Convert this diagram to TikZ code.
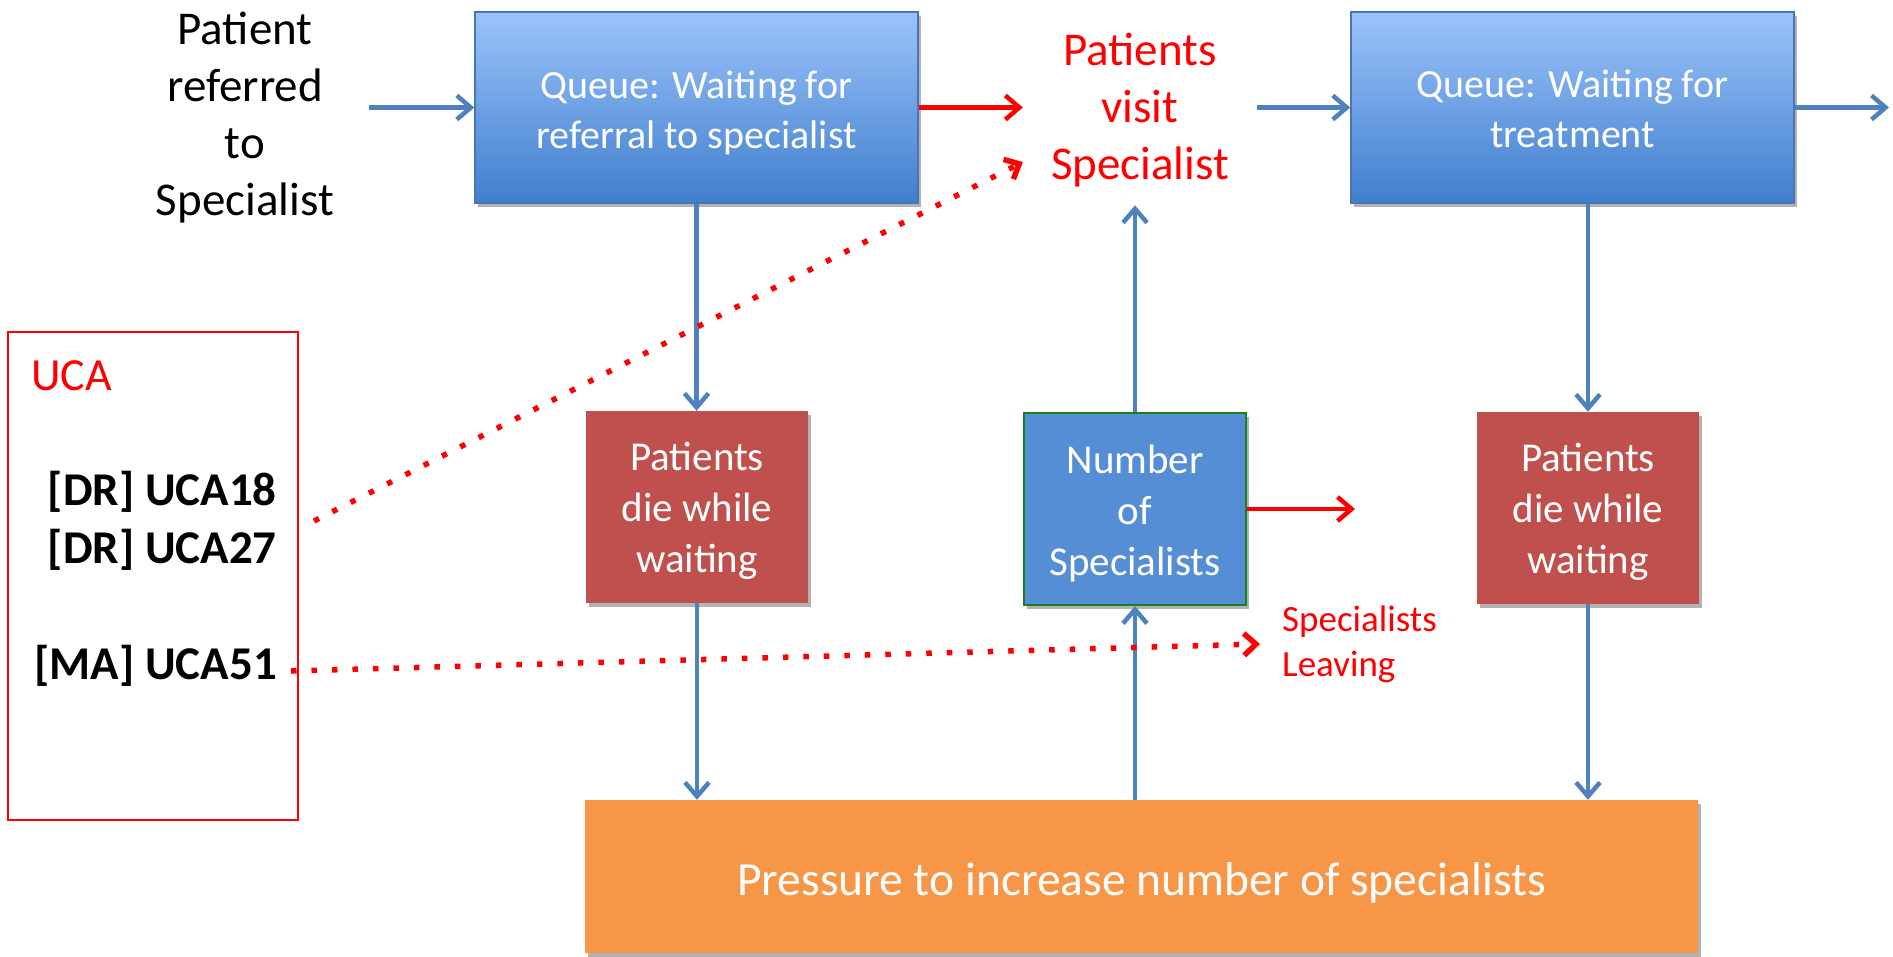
\documentclass[tikz,border=0pt]{standalone}
\usepackage{fontspec}
\setmainfont{Carlito}
\usetikzlibrary{arrows.meta,shadows}

\definecolor{flowblue}{RGB}{79,129,189}
\definecolor{queuetop}{RGB}{156,195,251}
\definecolor{queuebot}{RGB}{64,127,205}
\definecolor{queueedge}{RGB}{72,118,180}
\definecolor{deathred}{RGB}{192,80,77}
\definecolor{stockblue}{RGB}{85,142,213}
\definecolor{stockedge}{RGB}{20,130,30}
\definecolor{pressure}{RGB}{247,150,70}
\definecolor{ucared}{RGB}{255,0,0}

\newcommand{\fsz}[2]{\fontsize{#1}{#2}\selectfont}
% strut that pushes the first line of a box label down
\newcommand{\firstlinestrut}[1]{\rule{0pt}{#1}}
% strut giving a last line without descenders the depth of one with them
\newcommand{\lastlinestrut}{\rule[-0.19em]{0pt}{0.19em}}

\tikzset{
  boxshadow/.style={drop shadow={shadow xshift=3pt,shadow yshift=-4pt,opacity=0.3,fill=black}},
  queuebox/.style={draw=queueedge,line width=1.5pt,top color=queuetop,bottom color=queuebot,
    minimum width=443pt,minimum height=191pt,inner sep=0pt,text=white,align=center,
    font=\fsz{40}{50},boxshadow},
  deathbox/.style={fill=deathred,minimum width=222pt,minimum height=192pt,inner sep=0pt,
    text=white,align=center,font=\fsz{41}{51},boxshadow},
  stockbox/.style={fill=stockblue,draw=stockedge,line width=2pt,minimum width=222pt,
    minimum height=192pt,inner sep=0pt,text=white,align=center,font=\fsz{41}{51},boxshadow},
  pressurebox/.style={fill=pressure,minimum width=1113pt,minimum height=153pt,inner sep=0pt,
    text=white,font=\fsz{47.5}{56},boxshadow},
  flow/.style={draw=flowblue,line width=4.5pt,-{Straight Barb[length=14pt,width=24pt]}},
  redflow/.style={flow,draw=ucared},
  link/.style={draw=ucared,line width=5.5pt,dash pattern=on 5.5pt off 15pt,
    -{Straight Barb[length=12pt,width=22pt]}},
}

\begin{document}
\begin{tikzpicture}[x=1pt,y=-1pt]
\useasboundingbox (0,0) rectangle (1893,956);

% stocks and flows
\node[queuebox] (q1) at (696.5,107.5)
  {\firstlinestrut{0.95em}Queue: Waiting for\\referral to specialist};
\node[queuebox] (q2) at (1572.5,107.5)
  {\firstlinestrut{0.95em}Queue: Waiting for\\treatment\lastlinestrut};
\node[deathbox] (d1) at (697,507) {\firstlinestrut{0.88em}Patients\\die while\\waiting};
\node[stockbox] (num) at (1135,509) {\firstlinestrut{0.92em}Number\\of\\Specialists};
\node[deathbox] (d2) at (1588,508) {\firstlinestrut{0.88em}Patients\\die while\\waiting};
\node[pressurebox] (pr) at (1141.5,876.5)
  {\firstlinestrut{0.97em}Pressure to increase number of specialists};

\node[font=\fsz{47}{57},align=center,inner xsep=35pt,inner ysep=0pt] (src) at (245,118)
  {Patient\\referred\\to\\Specialist};
\node[font=\fsz{47}{57},align=center,text=ucared,inner xsep=28pt,inner ysep=18pt] (visit)
  at (1140,110) {Patients\\visit\\Specialist};
\node[font=\fsz{37}{45},align=left,text=ucared,anchor=west,inner xsep=22pt,inner ysep=0pt]
  (leave) at (1260,644) {Specialists\\Leaving};

\coordinate (exit) at (1889,107.5);
\coordinate (numout) at (1355,509);

% unsafe control actions panel
\node[draw=ucared,line width=2pt,minimum width=290pt,minimum height=488pt,inner sep=0pt]
  (uca) at (153,576) {};
\node[text=ucared,font=\fsz{46}{56},anchor=base west,inner sep=0pt] (ucatitle) at (31,390) {UCA};
\node[font=\fsz{47}{58}\bfseries,align=right,anchor=east,inner sep=0pt] (dr) at (277,521)
  {[DR] UCA18\\{}[DR] UCA27};
\node[font=\fsz{47}{56}\bfseries,anchor=east,inner sep=0pt] (ma) at (277,666) {[MA] UCA51};

% connectors
\draw[flow] (src.east |- q1.west) -- (q1.west);
\draw[redflow] (q1.east) -- (q1.east -| visit.west);
\draw[flow] (visit.east |- q2.west) -- (q2.west);
\draw[flow] (q2.east) -- (exit);
\draw[flow] (q1.south) -- (q1.south |- d1.north);
\draw[flow] (d1.south) -- (d1.south |- pr.north);
\draw[flow] (pr.north -| num.south) -- (num.south);
\draw[flow] (num.north) -- (num.north |- visit.south);
\draw[flow] (q2.south -| d2.north) -- (d2.north);
\draw[flow] (d2.south) -- (d2.south |- pr.north);
\draw[redflow] (num.east) -- (numout);
\draw[link] ([xshift=37pt]dr.east) -- ([yshift=-52pt]visit.west);
\draw[link] ([xshift=14pt,yshift=-5pt]ma.east) -- (leave.west);
\end{tikzpicture}
\end{document}
